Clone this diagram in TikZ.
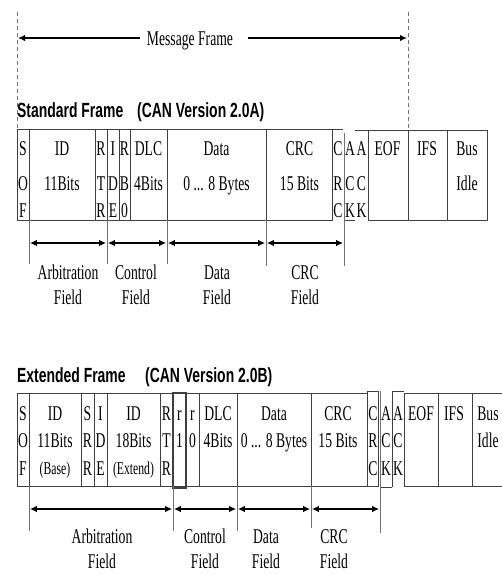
\documentclass[tikz,border=0pt]{standalone}
\usepackage{fontspec}
\setmainfont{Liberation Serif}[FakeStretch=0.65]
\newfontfamily\hdrfont{Liberation Sans}[FakeStretch=0.68]
\usetikzlibrary{arrows.meta}
\begin{document}
\begin{tikzpicture}[x=1pt,y=-1pt,
  txt/.style={anchor=base,inner sep=0pt,text=black,font=\fontsize{21}{23}\selectfont},
  smalltxt/.style={anchor=base,inner sep=0pt,text=black,font=\fontsize{18}{20}\selectfont},
  hdr/.style={anchor=base west,inner sep=0pt,text=black,font=\hdrfont\bfseries\fontsize{20.5}{23}\selectfont},
  cell/.style={draw=black!75,line width=0.9pt},
  ext/.style={draw=black!55,line width=0.7pt},
  dashline/.style={draw=black!55,line width=0.8pt,dash pattern=on 4pt off 3pt},
  fieldarr/.style={draw=black,line width=1.6pt,{Latex[length=7pt,width=6.5pt]}-{Latex[length=7pt,width=6.5pt]},shorten <=0.8pt,shorten >=0.8pt},
  onearr/.style={draw=black,line width=1.5pt,-{Latex[length=7pt,width=6.5pt]}}
]
\useasboundingbox (0,0) rectangle (502,574);

% ---------- Message frame ----------
\draw[dashline] (17,12) -- (17,128);
\draw[dashline] (408,12) -- (408,130);
\node[txt] (mf) at (190,45) {Message Frame};
\coordinate (mfL) at (18,38);
\coordinate (mfR) at (407,38);
\coordinate (mfa) at (140,38);
\coordinate (mfb) at (248,38);
\draw[onearr] (mfa) -- (mfL);
\draw[onearr] (mfb) -- (mfR);

% ---------- Standard frame ----------
\node[hdr] (sh1) at (17,117) {Standard Frame};
\node[hdr] (sh2) at (137,117) {(CAN Version 2.0A)};

\draw[cell] (17,129) rectangle (332,220);
\foreach \x in {29,95,107,119,130,167,266} \draw[cell] (\x,129) -- (\x,220);
\draw[cell] (332,129) -- (343,129);
\draw[cell] (355,130) -- (368,130);
\draw[cell] (345,220) -- (355,220);
\draw[cell] (368,130) rectangle (487,220);
\foreach \x in {408,447} \draw[cell] (\x,130) -- (\x,220);

\foreach \n/\x/\a/\b/\c in {ssof/23/S/O/F, srtr/101/R/T/R, side/113/I/D/E, sr/124.5/R/B/0, scd/338/C/R/C, sack/350/A/C/K, sad/361.5/A/C/K}{
  \node[txt] (\n1) at (\x,155) {\a};
  \node[txt] (\n2) at (\x,190) {\b};
  \node[txt] (\n3) at (\x,217) {\c};
}
\node[txt] (sid1) at (62,155) {ID};
\node[txt] (sid2) at (62,190) {11Bits};
\node[txt] (sdlc1) at (148.5,155) {DLC};
\node[txt] (sdlc2) at (148.5,190) {4Bits};
\node[txt] (sdat1) at (216.5,155) {Data};
\node[txt] (sdat2) at (216.5,190) {0 ... 8 Bytes};
\node[txt] (scrc1) at (299.5,155) {CRC};
\node[txt] (scrc2) at (299.5,190) {15 Bits};
\node[txt] (seof) at (387.5,155) {EOF};
\node[txt] (sifs) at (427,155) {IFS};
\node[txt] (sbus1) at (467,155) {Bus};
\node[txt] (sbus2) at (467,190) {Idle};

% extension lines
\foreach \x in {29,107,167} \draw[ext] (\x,220) -- (\x,264);
\draw[ext] (266,220) -- (266,266);
\draw[ext] (344,133) -- (344,266);

\coordinate (sa0) at (29,243);
\coordinate (sa1) at (107,243);
\coordinate (sa2) at (167,243);
\coordinate (sa3) at (266,243);
\coordinate (sa4) at (344,243);
\draw[fieldarr] (sa0) -- (sa1);
\draw[fieldarr] (sa1) -- (sa2);
\draw[fieldarr] (sa2) -- (sa3);
\draw[fieldarr] (sa3) -- (sa4);

\node[txt] (sf1a) at (68,279) {Arbitration};
\node[txt] (sf1b) at (68,304) {Field};
\node[txt] (sf2a) at (136,279) {Control};
\node[txt] (sf2b) at (136,304) {Field};
\node[txt] (sf3a) at (217,279) {Data};
\node[txt] (sf3b) at (217,304) {Field};
\node[txt] (sf4a) at (305,279) {CRC};
\node[txt] (sf4b) at (305,304) {Field};

% ---------- Extended frame ----------
\node[hdr] (eh1) at (17,382) {Extended Frame};
\node[hdr] (eh2) at (145,382) {(CAN Version 2.0B)};

\draw[cell] (17,393) rectangle (367,486);
\foreach \x in {29,81,94,107,160,199,237,311} \draw[cell] (\x,393) -- (\x,486);
\draw[cell,line width=1.2pt] (173,393) rectangle (186,488);
\draw[cell] (367,391) rectangle (378,486);
\draw[cell] (381,487) -- (392,487);
\draw[cell] (392,391) -- (392,487);
\draw[cell] (392,391) -- (404,391);
\draw[cell] (404,393) -- (404,486);
\draw[cell] (404,393) -- (502,393);
\draw[cell] (404,486) -- (502,486);
\foreach \x in {438,472} \draw[cell] (\x,393) -- (\x,486);

\foreach \n/\x/\a/\b/\c in {esof/23/S/O/F, esrr/87.5/S/R/R, eide/100.5/I/D/E, ertr/166.5/R/T/R, ecd/373/C/R/C, eack/386/A/C/K, ead/398/A/C/K}{
  \node[txt] (\n1) at (\x,420) {\a};
  \node[txt] (\n2) at (\x,447) {\b};
  \node[txt] (\n3) at (\x,475) {\c};
}
\node[txt] (er11) at (179.5,420) {r};
\node[txt] (er12) at (179.5,447) {1};
\node[txt] (er01) at (192.5,420) {r};
\node[txt] (er02) at (192.5,447) {0};
\node[txt] (eid1) at (55,420) {ID};
\node[txt] (eid2) at (55,447) {11Bits};
\node[smalltxt] (eid3) at (55,474) {(Base)};
\node[txt] (exd1) at (133.5,420) {ID};
\node[txt] (exd2) at (133.5,447) {18Bits};
\node[smalltxt] (exd3) at (133.5,474) {(Extend)};
\node[txt] (edlc1) at (218,420) {DLC};
\node[txt] (edlc2) at (218,447) {4Bits};
\node[txt] (edat1) at (274,420) {Data};
\node[txt] (edat2) at (274,447) {0 ... 8 Bytes};
\node[txt] (ecrc1) at (338,420) {CRC};
\node[txt] (ecrc2) at (338,447) {15 Bits};
\node[txt] (eeof) at (421,420) {EOF};
\node[txt] (eifs) at (454,420) {IFS};
\node[txt] (ebus1) at (488,420) {Bus};
\node[txt] (ebus2) at (488,447) {Idle};

\foreach \x in {29,173,237} \draw[ext] (\x,486) -- (\x,531);
\draw[ext] (311,486) -- (311,528);
\draw[ext] (380,391) -- (380,533);

\coordinate (ea0) at (29,509);
\coordinate (ea1) at (173,509);
\coordinate (ea2) at (237,509);
\coordinate (ea3) at (311,509);
\coordinate (ea4) at (380,509);
\draw[fieldarr] (ea0) -- (ea1);
\draw[fieldarr] (ea1) -- (ea2);
\draw[fieldarr] (ea2) -- (ea3);
\draw[fieldarr] (ea3) -- (ea4);

\node[txt] (ef1a) at (102,543) {Arbitration};
\node[txt] (ef1b) at (102,568) {Field};
\node[txt] (ef2a) at (205,543) {Control};
\node[txt] (ef2b) at (205,568) {Field};
\node[txt] (ef3a) at (266,543) {Data};
\node[txt] (ef3b) at (266,568) {Field};
\node[txt] (ef4a) at (334,543) {CRC};
\node[txt] (ef4b) at (334,568) {Field};
\end{tikzpicture}
\end{document}
